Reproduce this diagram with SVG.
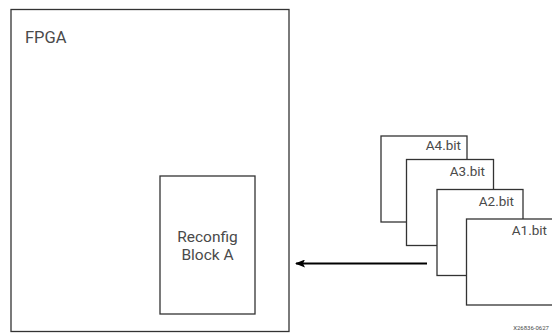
<svg xmlns="http://www.w3.org/2000/svg" width="552" height="333" viewBox="0 0 552 333">
<style>
.box{fill:#fff;stroke:#333;stroke-width:1.3}
.t{font-family:Roboto,"Liberation Sans",sans-serif;fill:#4a4a4a}
.b{font-size:13.5px;text-anchor:end}
</style>
<defs>
<marker id="ah" markerWidth="10" markerHeight="8" refX="9" refY="4" orient="auto" markerUnits="userSpaceOnUse">
<path d="M0,0 L10,4 L0,8 L2,4 Z" fill="#000"/>
</marker>
</defs>
<rect width="552" height="333" fill="#fff"/>
<g id="fpga">
<rect class="box" x="11" y="9.5" width="278" height="322"/>
<text class="t" x="25" y="42.5" font-size="16.5">FPGA</text>
</g>
<g id="reconfig">
<rect class="box" x="160" y="176" width="95" height="138"/>
<text class="t" x="207.5" y="242" font-size="15.5" text-anchor="middle">Reconfig</text>
<text class="t" x="207.5" y="260" font-size="15.5" text-anchor="middle">Block A</text>
</g>
<g id="a4">
<rect class="box" x="381" y="136" width="86" height="86"/>
<text class="t b" x="461" y="150">A4.bit</text>
</g>
<g id="a3">
<rect class="box" x="406.5" y="159.5" width="87" height="86"/>
<text class="t b" x="485" y="175.5">A3.bit</text>
</g>
<g id="a2">
<rect class="box" x="437" y="189.5" width="86" height="86"/>
<text class="t b" x="514" y="205.5">A2.bit</text>
</g>
<g id="a1">
<rect class="box" x="466.5" y="219" width="90" height="86"/>
<text class="t b" x="547" y="235">A1.bit</text>
</g>
<g id="connectors">
<line x1="427" y1="263.5" x2="296" y2="263.5" stroke="#000" stroke-width="2" marker-end="url(#ah)"/>
</g>
<text class="t" x="549" y="330" font-size="6" text-anchor="end" fill="#888">X26836-0627</text>
</svg>
